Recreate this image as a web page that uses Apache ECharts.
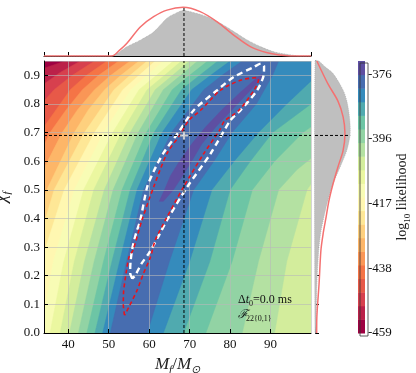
<!DOCTYPE html>
<html>
<head>
<meta charset="utf-8">
<script src="https://cdn.jsdelivr.net/npm/echarts@6.0.0/dist/echarts.min.js"></script>
<style>
html,body{margin:0;padding:0;background:#ffffff;}
#chart{width:416px;height:373px;}
</style>
</head>
<body>
<div id="chart"></div>
<script>
// ---------------- data ----------------
const truthMf = 68.6;
const truthChi = 0.69;

// colour levels of the filled contours / colorbar (log10 likelihood)
const colorbarLevels = [-459, -454.64, -450.28, -445.92, -441.56, -437.2, -432.84, -428.48,
  -424.12, -419.76, -415.4, -411.04, -406.68, -402.32, -397.96, -393.6, -389.24, -384.88,
  -380.52, -376.16, -371.8];
const colorbarTickLabels = ['-459', '-438', '-417', '-396', '-376'];

// left-hand boundaries of the regions above levels 1..17 (points [Mf, chi], bottom -> top)
const leftBoundaries = [
  [[26,0.9],[34,0.925],[39.2,0.95],[42,0.96]],
  [[26,0.83],[34,0.87],[38,0.91],[43,0.95],[45,0.96]],
  [[26,0.75],[34,0.81],[36.5,0.85],[41,0.9],[46.5,0.95],[48,0.96]],
  [[26,0.62],[34,0.72],[37,0.78],[40.5,0.85],[44.5,0.9],[49.6,0.95],[51,0.96]],
  [[26,0.55],[34,0.655],[35.5,0.7],[39.5,0.78],[43.5,0.85],[47.5,0.9],[52.5,0.95],[54,0.96]],
  [[26,0.46],[34,0.575],[38.5,0.7],[42.3,0.78],[46.5,0.85],[50.5,0.9],[55.3,0.95],[57,0.96]],
  [[28,0.3],[34,0.47],[34.7,0.5],[41.5,0.7],[45,0.78],[49,0.85],[53,0.9],[57.5,0.95],[59,0.96]],
  [[30,0.2],[34,0.38],[36.5,0.5],[44,0.7],[51.3,0.85],[55.3,0.9],[59.5,0.95],[61,0.96]],
  [[31,0.1],[34,0.28],[39,0.5],[46.5,0.7],[53.5,0.85],[57.5,0.9],[61.5,0.95],[63,0.96]],
  [[32.5,-0.05],[33.2,0],[36.3,0.25],[41.5,0.5],[48.8,0.7],[55.5,0.85],[59.5,0.9],[63.5,0.95],[65,0.96]],
  [[35,-0.05],[35.5,0],[38.9,0.25],[43.8,0.5],[51,0.7],[57.5,0.85],[61.8,0.9],[66,0.95],[67,0.96]],
  [[37.5,-0.05],[38,0],[41.5,0.25],[46.3,0.5],[53.2,0.7],[59.5,0.85],[63.8,0.9],[68,0.95],[69,0.96]],
  [[39.8,-0.05],[40.3,0],[44,0.25],[48.9,0.5],[55.3,0.7],[61.5,0.85],[65.8,0.9],[70,0.95],[71,0.96]],
  [[42,-0.05],[42.5,0],[46.4,0.25],[51.1,0.5],[57.3,0.7],[63.5,0.85],[67.8,0.9],[72,0.95],[73,0.96]],
  [[44.2,-0.05],[44.6,0],[48.7,0.25],[53.3,0.5],[59.3,0.7],[65.7,0.85],[70,0.9],[74.5,0.95],[75.5,0.96]],
  [[46.2,-0.05],[46.6,0],[50.8,0.25],[55.3,0.5],[61.2,0.7],[68,0.85],[72.5,0.9],[77,0.95],[78,0.96]],
  [[48.1,-0.05],[48.5,0],[52.7,0.25],[57,0.5],[63.2,0.7],[70.5,0.85],[75.2,0.9],[80,0.95],[81,0.96]]
];
// right-hand boundaries of the regions above levels 1..17 (top -> bottom); null = outside the plot
const rightBoundaries = [
  null, null, null, null, null, null, null, null, null, null, null,
  [[120,0.3],[106,0],[105.5,-0.05]],
  [[115,0.7],[100,0.52],[99,0.5],[94,0.25],[91,0],[90.8,-0.05]],
  [[115,0.76],[100,0.61],[96.5,0.57],[92,0.5],[87,0.25],[83,0],[82.8,-0.05]],
  [[115,0.84],[100,0.72],[98,0.7],[91,0.6],[85.5,0.5],[80.5,0.25],[74,0],[73.8,-0.05]],
  [[115,0.9],[100,0.8],[90.5,0.7],[85,0.6],[80,0.5],[75,0.25],[68.5,0],[68.3,-0.05]],
  [[115,0.98],[100,0.88],[94,0.8],[87,0.7],[81,0.6],[75.5,0.5],[70,0.25],[63.5,0],[63.3,-0.05]]
];
// region above level 18 (closed outline)
const ridgeRegion = [[50,-0.05],[50.4,0],[54.4,0.25],[58.6,0.5],[65.5,0.7],[73.5,0.85],[78,0.9],[83,0.95],[83.5,0.97],
  [92.5,0.97],[92,0.95],[90.5,0.9],[86.5,0.8],[80.5,0.7],[76,0.6],[71,0.5],[65,0.25],[59.5,0],[59.3,-0.05]];
// region above level 19 (closed outline)
const peakRegion = [[62.5,0.46],[63.8,0.5],[65.3,0.55],[67.5,0.6],[70.5,0.66],[74,0.72],[78,0.78],[82.5,0.84],[86.5,0.89],[88,0.905],
  [87.5,0.885],[84.5,0.84],[80.5,0.78],[76.5,0.72],[73,0.66],[70.5,0.6],[68.3,0.55],[66,0.5],[63.5,0.46]];

// credible-region contours
const whiteContour = [[55.8,0.19],[55.3,0.21],[55.4,0.25],[55.9,0.3],[56.8,0.35],[57.8,0.394],[59.5,0.51],[61.3,0.57],
  [63.5,0.628],[67.2,0.7],[71,0.778],[76.8,0.848],[80.9,0.894],[85.9,0.929],[87.6,0.941],[88.4,0.932],[88.3,0.9],
  [86.7,0.848],[82.6,0.778],[80.1,0.743],[75.2,0.627],[69.4,0.51],[64.4,0.394],[62,0.33],[60,0.28],[58,0.24],[56.5,0.2],[55.8,0.19]];
const redContour = [[53.9,0.062],[53.6,0.1],[53.7,0.149],[54.3,0.21],[55,0.265],[56,0.289],[58.2,0.394],[61.1,0.51],
  [64.4,0.627],[67.7,0.694],[69.8,0.743],[72.7,0.778],[77.6,0.848],[82.6,0.883],[86.7,0.892],[87,0.883],[85.9,0.848],
  [82.2,0.778],[78.6,0.74],[77.4,0.708],[73.5,0.627],[68.5,0.51],[64,0.394],[61.5,0.324],[60.3,0.265],[58.6,0.208],
  [57,0.149],[55,0.091],[53.9,0.062]];

// marginal distributions
const topGray = [[34,0],[50.4,0],[52.5,0.07],[54.5,0.18],[57.8,0.31],[61.1,0.47],[64.4,0.74],[66.9,0.85],[68.4,0.89],
  [71,0.85],[74.3,0.77],[77.6,0.64],[80.9,0.48],[84.3,0.31],[87.6,0.18],[90.9,0.08],[94.2,0.03],[97.5,0],[100,0]];
const topRed = [[34,0],[50.8,0],[52.5,0.1],[54.5,0.25],[57.8,0.57],[61.1,0.77],[64.4,0.9],[68.4,0.955],[72.6,0.87],
  [76.8,0.67],[80.9,0.41],[85.1,0.18],[89.2,0.065],[93.4,0.01],[97,0],[100,0]];
const rightGray = [[0.02,0],[0.03,0.056],[0.05,0.172],[0.1,0.289],[0.15,0.347],[0.24,0.405],[0.35,0.464],[0.49,0.522],
  [0.68,0.58],[0.86,0.638],[0.95,0.697],[0.93,0.755],[0.86,0.81],[0.76,0.848],[0.49,0.906],[0.27,0.93],[0.1,0.95]];
const rightRed = [[0.045,0],[0.05,0.056],[0.11,0.172],[0.16,0.289],[0.22,0.347],[0.3,0.405],[0.38,0.464],[0.49,0.522],
  [0.62,0.58],[0.76,0.638],[0.81,0.697],[0.76,0.755],[0.62,0.81],[0.35,0.87],[0.05,0.95]];

// ---------------- styling helpers ----------------
const spectralAnchors = ['#9e0142','#d53e4f','#f46d43','#fdae61','#fee08b','#ffffbf','#e6f598','#abdda4','#66c2a5','#3288bd','#5e4fa2'];
function hex2rgb(h){return [parseInt(h.substr(1,2),16),parseInt(h.substr(3,2),16),parseInt(h.substr(5,2),16)];}
function spectral(t){
  const p = Math.max(0, Math.min(1, t)) * 10;
  const i = Math.min(9, Math.floor(p)); const f = p - i;
  const a = hex2rgb(spectralAnchors[i]), b = hex2rgb(spectralAnchors[i+1]);
  return 'rgb(' + a.map((v,j)=>Math.round(v + (b[j]-v)*f)).join(',') + ')';
}
const nBands = colorbarLevels.length - 1;
function bandColor(k){ return spectral(k / (nBands - 1)); }

function regionPolygon(L, R){
  const pts = [[-100,-1],[-100,L[0][1]]].concat(L);
  pts.push([L[L.length-1][0], 2]);
  if (R) { pts.push([R[0][0], 2]); R.forEach(p=>pts.push(p)); pts.push([R[R.length-1][0], -1]); }
  else { pts.push([200,2],[200,-1]); }
  return pts;
}
const fieldPolygons = [[[-100,-1],[-100,2],[200,2],[200,-1]]];
leftBoundaries.forEach((L,i)=>fieldPolygons.push(regionPolygon(L, rightBoundaries[i])));
fieldPolygons.push(ridgeRegion);
fieldPolygons.push(peakRegion);

const serif = 'Liberation Serif';
const tickLabelStyle = {fontFamily: serif, fontSize: 13, color: '#111'};
const splitStyle = {show: true, lineStyle: {color: 'rgba(185,185,185,0.6)', width: 1}};

const chart = echarts.init(document.getElementById('chart'), null, {renderer: 'canvas'});

const option = {
  animation: false,
  textStyle: {fontFamily: serif},
  grid: [
    {left: 44, top: 61, width: 267, height: 272, outerBoundsMode: 'none', containLabel: false},   // main
    {left: 44, top: 5, width: 267, height: 51, outerBoundsMode: 'none', containLabel: false},     // top marginal
    {left: 315, top: 61, width: 37, height: 272, outerBoundsMode: 'none', containLabel: false},   // right marginal
    {left: 358, top: 61, width: 7, height: 272, outerBoundsMode: 'none', containLabel: false}     // colorbar
  ],
  xAxis: [
    {gridIndex: 0, type: 'value', min: 34, max: 100, minInterval: 10, maxInterval: 10, z: 3,
      name: '{i|M}{s|f}{n|/}{i|M}{s|⊙}', nameLocation: 'middle', nameGap: 17,
      nameTextStyle: {rich: {
        i: {fontFamily: serif, fontStyle: 'italic', fontSize: 17, color: '#222', verticalAlign: 'bottom', padding: [0,0,3,0]},
        n: {fontFamily: serif, fontSize: 17, color: '#222', verticalAlign: 'bottom', padding: [0,0,3,0]},
        s: {fontFamily: serif, fontStyle: 'italic', fontSize: 11, color: '#222', verticalAlign: 'bottom'}}},
      axisLine: {show: true, lineStyle: {color: '#000', width: 1}},
      axisTick: {show: true, inside: true, length: 4, lineStyle: {color: '#000'}},
      axisLabel: Object.assign({margin: 5, showMinLabel: false, showMaxLabel: false}, tickLabelStyle),
      splitLine: splitStyle},
    {gridIndex: 1, type: 'value', min: 34, max: 100, minInterval: 10, maxInterval: 10,
      axisLine: {show: true, lineStyle: {color: '#000', width: 1}},
      axisTick: {show: true, inside: true, length: 4, lineStyle: {color: '#000'}},
      axisLabel: {show: false}, splitLine: {show: false}},
    {gridIndex: 2, type: 'value', min: 0, max: 1, show: false},
    {gridIndex: 3, type: 'value', min: 0, max: 1, show: false}
  ],
  yAxis: [
    {gridIndex: 0, type: 'value', min: 0, max: 0.95, interval: 0.1, z: 3,
      name: '{i|χ}{s|f}', nameLocation: 'middle', nameGap: 29, nameRotate: 90,
      nameTextStyle: {rich: {
        i: {fontFamily: serif, fontStyle: 'italic', fontSize: 18, color: '#222', verticalAlign: 'bottom', padding: [0,0,3,0]},
        s: {fontFamily: serif, fontStyle: 'italic', fontSize: 11, color: '#222', verticalAlign: 'bottom'}}},
      axisLine: {show: true, lineStyle: {color: '#000', width: 1}},
      axisTick: {show: true, inside: true, length: 4, lineStyle: {color: '#000'}},
      axisLabel: Object.assign({margin: 4, showMaxLabel: false, formatter: v => v.toFixed(1)}, tickLabelStyle),
      splitLine: splitStyle},
    {gridIndex: 1, type: 'value', min: 0, max: 1, show: false},
    {gridIndex: 2, type: 'value', min: 0, max: 0.95, interval: 0.1,
      axisLine: {show: true, lineStyle: {color: '#000', width: 1}},
      axisTick: {show: true, inside: true, length: 4, lineStyle: {color: '#000'}},
      axisLabel: {show: false}, splitLine: {show: false}},
    {gridIndex: 3, type: 'value', position: 'right', min: colorbarLevels[0], max: colorbarLevels[colorbarLevels.length-1],
      interval: 20.75,
      name: '{n|log}{s|10}{n| likelihood}', nameLocation: 'middle', nameGap: 30, nameRotate: 90,
      nameTextStyle: {rich: {
        n: {fontFamily: serif, fontSize: 14, color: '#222', verticalAlign: 'bottom', padding: [0,0,2,0]},
        s: {fontFamily: serif, fontSize: 9, color: '#222', verticalAlign: 'bottom'}}},
      axisLine: {show: false}, axisTick: {show: false}, splitLine: {show: false},
      axisLabel: Object.assign({margin: 3, showMaxLabel: false, formatter: v => {
        const i = (v - colorbarLevels[0]) / 20.75; const r = Math.round(i);
        return Math.abs(i - r) < 1e-6 && colorbarTickLabels[r] ? colorbarTickLabels[r] : '';
      }}, tickLabelStyle)}
  ],
  series: [
    {type: 'custom', name: 'likelihood', xAxisIndex: 0, yAxisIndex: 0, z: 1, silent: true,
      data: [[34, 0]],
      renderItem: function(params, api){
        const cs = params.coordSys;
        return {type: 'group',
          clipPath: {type: 'rect', shape: {x: cs.x, y: cs.y, width: cs.width, height: cs.height}},
          children: fieldPolygons.map((poly, k) => ({
            type: 'polygon',
            shape: {points: poly.map(p => api.coord(p))},
            style: {fill: bandColor(k), stroke: bandColor(k), lineWidth: 0.5}
          }))};
      }},
    {type: 'line', name: 'white contour', xAxisIndex: 0, yAxisIndex: 0, z: 6, data: whiteContour,
      showSymbol: false, smooth: 0.25, lineStyle: {color: '#ffffff', width: 2.4, type: [6, 4]}},
    {type: 'line', name: 'red contour', xAxisIndex: 0, yAxisIndex: 0, z: 7, data: redContour,
      showSymbol: false, smooth: 0.25, lineStyle: {color: '#e8141c', width: 1.6, type: [4, 3]}},
    {type: 'line', name: 'truth Mf', xAxisIndex: 0, yAxisIndex: 0, z: 8, data: [[truthMf, 0], [truthMf, 0.95]],
      showSymbol: false, lineStyle: {color: '#000', width: 1, type: [3, 2]}},
    {type: 'line', name: 'truth chi', xAxisIndex: 0, yAxisIndex: 0, z: 8, data: [[34, truthChi], [100, truthChi]],
      showSymbol: false, lineStyle: {color: '#000', width: 1, type: [3, 2]}},
    {type: 'scatter', name: 'truth', xAxisIndex: 0, yAxisIndex: 0, z: 9, data: [[truthMf, truthChi]],
      symbol: 'path://M-1,-4L1,-4L1,-1L4,-1L4,1L1,1L1,4L-1,4L-1,1L-4,1L-4,-1L-1,-1Z', symbolSize: 8,
      itemStyle: {color: '#ffffff', borderColor: '#888', borderWidth: 0.5}},
    // top marginal
    {type: 'line', name: 'top gray', xAxisIndex: 1, yAxisIndex: 1, data: topGray, showSymbol: false, smooth: 0.3, z: 2,
      lineStyle: {color: '#a8a8a8', width: 0.8, type: 'dotted'}, areaStyle: {color: '#bfbfbf', opacity: 1}},
    {type: 'line', name: 'top red', xAxisIndex: 1, yAxisIndex: 1, data: topRed, showSymbol: false, smooth: 0.3, z: 3,
      lineStyle: {color: '#f47171', width: 1.5}},
    {type: 'line', name: 'top truth', xAxisIndex: 1, yAxisIndex: 1, z: 4,
      data: [[truthMf, 0], [truthMf, Math.max(...topRed.map(p => p[1]))]],
      showSymbol: false, lineStyle: {color: '#000', width: 1, type: [3, 2]}},
    // right marginal
    {type: 'custom', name: 'right gray fill', xAxisIndex: 2, yAxisIndex: 2, z: 2, silent: true, data: [[0, 0]],
      renderItem: function(params, api){
        const pts = [[0, rightGray[0][1]]].concat(rightGray, [[0, rightGray[rightGray.length-1][1]]]);
        return {type: 'polygon', shape: {points: pts.map(p => api.coord(p)), smooth: 0.3},
          style: {fill: '#bfbfbf', stroke: '#a8a8a8', lineWidth: 0.6, lineDash: [1, 1]}};
      }},
    {type: 'line', name: 'right red', xAxisIndex: 2, yAxisIndex: 2, data: rightRed, showSymbol: false, smooth: 0.3, z: 3,
      lineStyle: {color: '#f47171', width: 1.5}},
    {type: 'line', name: 'right truth', xAxisIndex: 2, yAxisIndex: 2, z: 4,
      data: [[0, truthChi], [Math.max(...rightGray.map(p => p[0])), truthChi]],
      showSymbol: false, lineStyle: {color: '#000', width: 1, type: [3, 2]}},
    // colorbar
    {type: 'custom', name: 'colorbar', xAxisIndex: 3, yAxisIndex: 3, z: 2, silent: true,
      data: colorbarLevels.slice(0, -1).map((v, i) => [0, v, colorbarLevels[i + 1], i]),
      renderItem: function(params, api){
        const p0 = api.coord([0, api.value(1)]);
        const p1 = api.coord([1, api.value(2)]);
        return {type: 'rect', shape: {x: p0[0], y: p1[1], width: p1[0] - p0[0], height: p0[1] - p1[1] + 0.5},
          style: {fill: bandColor(api.value(3))}};
      }}
  ],
  graphic: [
    {type: 'rect', left: 357.5, top: 60.5, shape: {width: 8, height: 273},
      style: {fill: 'none', stroke: '#333', lineWidth: 0.8}, z: 10},
    {type: 'text', left: 238, top: 294, z: 20,
      style: {text: '{n|Δ}{i|t}{s|0}{n|=0.0 ms}', rich: {
        n: {fontFamily: serif, fontSize: 12, fill: '#111', verticalAlign: 'bottom', padding: [0,0,2,0]},
        i: {fontFamily: serif, fontSize: 12, fontStyle: 'italic', fill: '#111', verticalAlign: 'bottom', padding: [0,0,2,0]},
        s: {fontFamily: serif, fontSize: 8, fill: '#111', verticalAlign: 'bottom'}}}},
    {type: 'text', left: 238, top: 309, z: 20,
      style: {text: 'ℱ', fontFamily: 'DejaVu Serif', fontSize: 12, fontStyle: 'italic', fill: '#111'}},
    {type: 'text', left: 246, top: 315, z: 20,
      style: {text: '22{0,1}', fontFamily: serif, fontSize: 8, fill: '#111'}}
  ]
};
chart.setOption(option);
</script>
</body>
</html>
